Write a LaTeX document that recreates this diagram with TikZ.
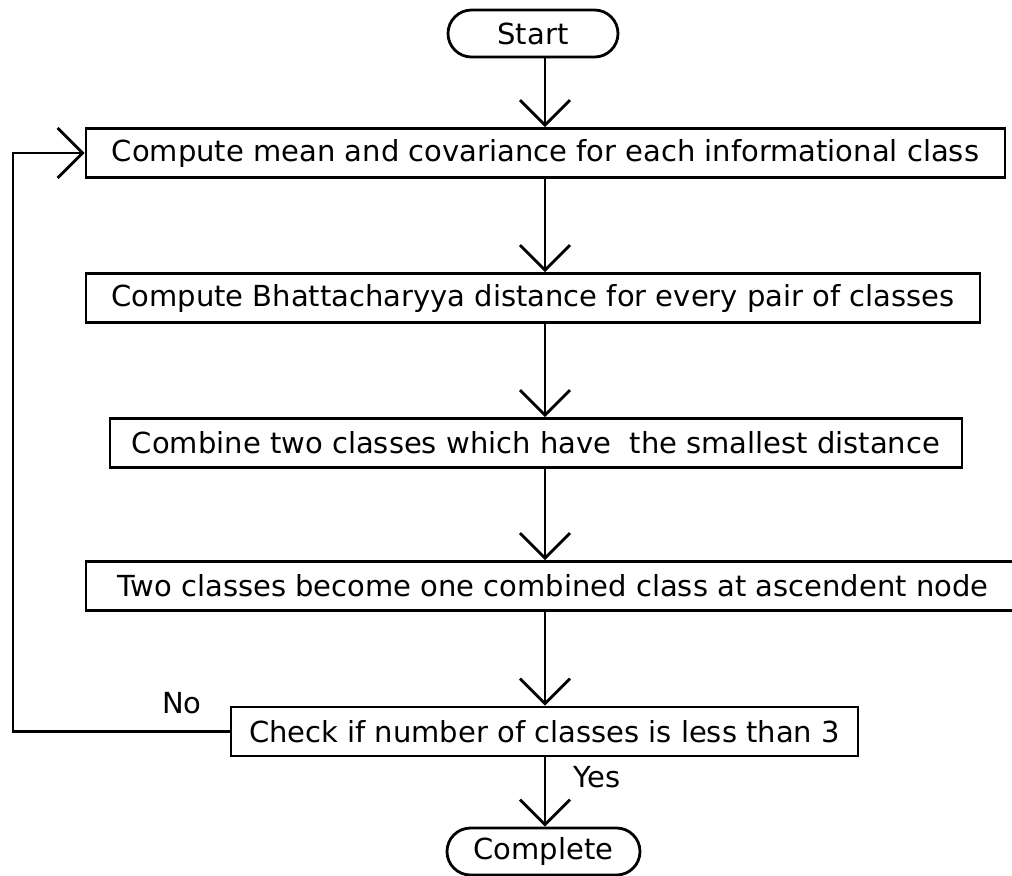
\documentclass[tikz,border=0pt]{standalone}
\usepackage{fontspec}
\setmainfont{DejaVu Sans}
\usetikzlibrary{arrows.meta,shapes.misc}
\tikzset{
  stepbox/.style={draw, line width=1.4pt, minimum height=24.5pt, inner sep=0pt, font=\fontsize{14.5}{17}\selectfont},
  endbox/.style={rounded rectangle, draw, line width=1.4pt, minimum height=23.5pt, inner sep=0pt, font=\fontsize{14.5}{17}\selectfont},
  flow/.style={line width=1.4pt, -{Straight Barb[length=12.5pt,width=25pt]}},
  tag/.style={font=\fontsize{14.5}{17}\selectfont}
}
\begin{document}
\begin{tikzpicture}[x=0.5pt,y=-0.5pt]
		\useasboundingbox[fill=white] (0,0) rectangle (1012,875);
		% Start and end
		\node[endbox, minimum width=85pt] (start) at (533,33.5) {Start};
		\node[endbox, minimum width=96.5pt] (complete) at (543.5,851.5) {Complete};
		
		% Steps
		\node[stepbox, minimum width=459.5pt] (mean) at (545.5,153) {Compute mean and covariance for each informational class};
		\node[stepbox, minimum width=447pt] (dist) at (533,298) {Compute Bhattacharyya distance for every pair of classes};
		\node[stepbox, minimum width=426pt] (merge) at (536,443) {Combine two classes which have\ \ the smallest distance};
		\node[stepbox, minimum width=467pt] (join) at (553,586) {Two classes become one combined class at ascendent node};
		\node[stepbox, minimum width=313.5pt] (check) at (544.5,731.5) {Check if number of classes is less than 3};
		
		% Labels
		\node[tag] (no) at (182,703) {No};
		\node[tag] (yes) at (597,777) {Yes};
		
		% Arrows down the middle
		\coordinate (axis) at (545,0);
		\draw[flow] (start.south -| axis) -- (mean.north -| axis);
		\draw[flow] (mean.south -| axis) -- (dist.north -| axis);
		\draw[flow] (dist.south -| axis) -- (merge.north -| axis);
		\draw[flow] (merge.south -| axis) -- (join.north -| axis);
		\draw[flow] (join.south -| axis) -- (check.north -| axis);
		\draw[flow] (check.south -| axis) -- (complete.north -| axis);
		
		% Loop back
		\coordinate (back) at (13,731.5);
		\draw[flow] (check.west) -- (back) |- (mean.west);
	\end{tikzpicture}
\end{document}
